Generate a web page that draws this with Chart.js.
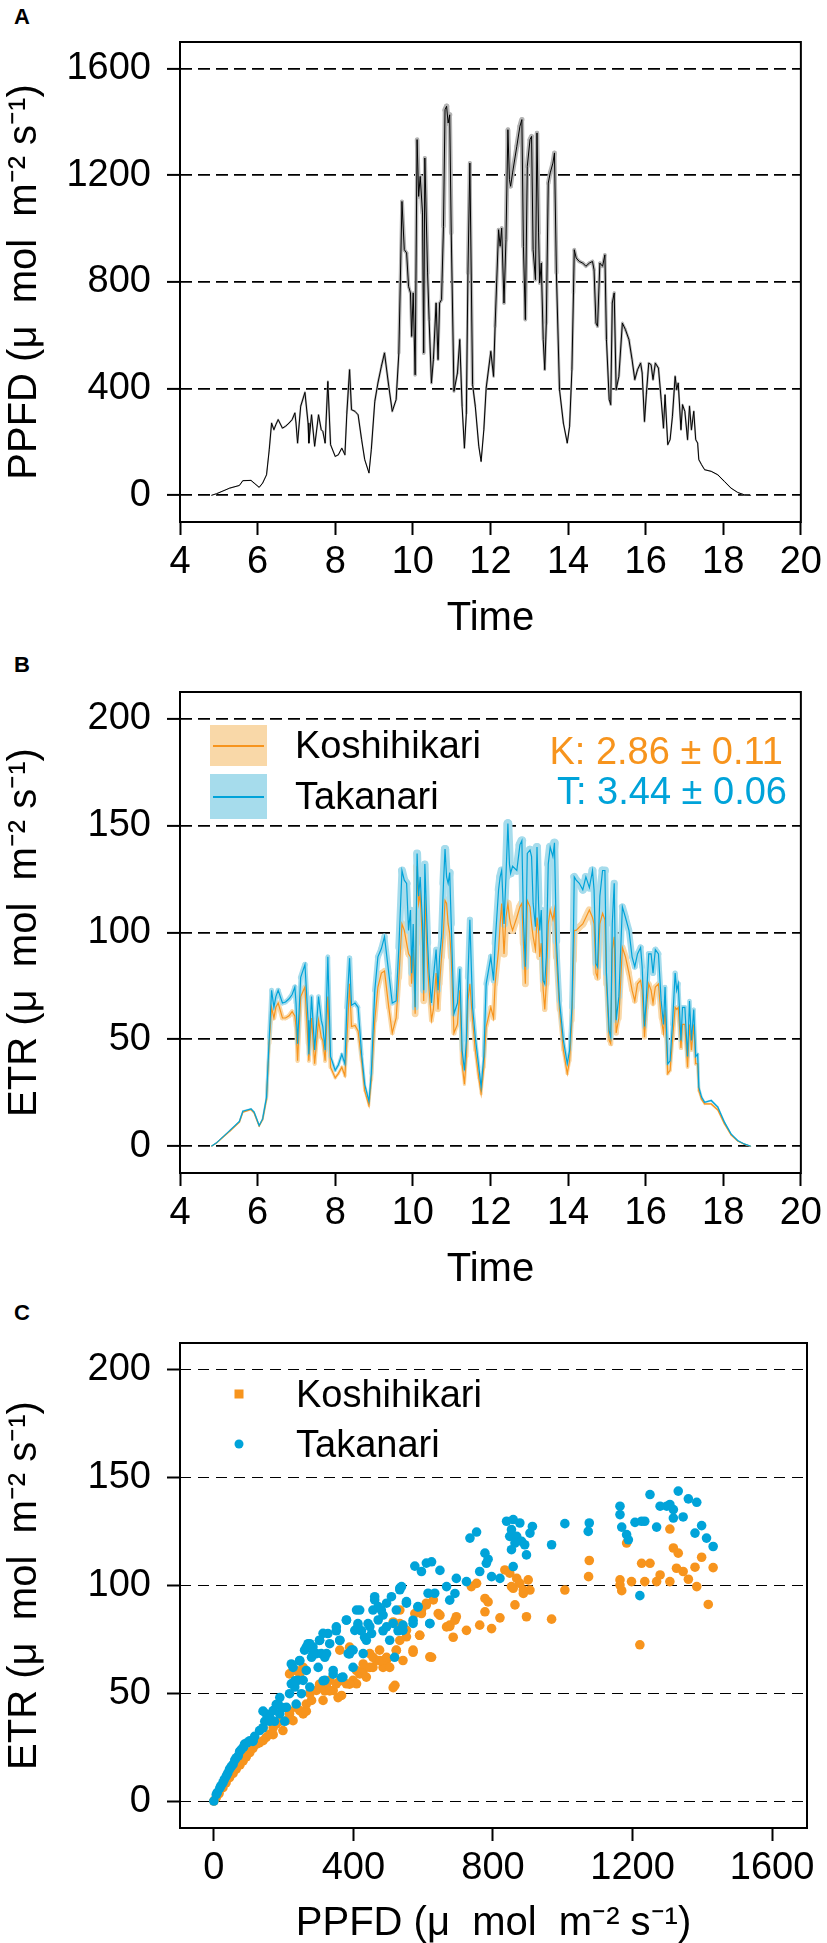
<!DOCTYPE html>
<html lang="en">
<head>
<meta charset="UTF-8">
<title>PPFD and ETR</title>
<style>
    html, body { margin: 0; padding: 0; background: #fff; overflow: hidden; }
    body { width: 827px; height: 1943px; position: relative; font-family: 'Liberation Sans', Arial, sans-serif; color: #000; }
    .panel { position: absolute; left: 0; width: 827px; }
    .tag { position: absolute; font-weight: bold; font-size: 22px; line-height: 22px; transform: translateY(-50%); }
    .txt { position: absolute; font-size: 38px; line-height: 38px; white-space: pre; transform: translateY(-50%); }
    .swatch { position: absolute; width: 57px; }
    .swatch i { position: absolute; left: 3px; right: 3px; top: 50%; height: 2px; margin-top: -1px; }
    .dot { position: absolute; width: 9px; height: 9px; transform: translate(-50%, -50%); }
</style>
<script src="https://cdn.jsdelivr.net/npm/chart.js"></script>
</head>
<body>
    <div class="tag" style="left:14px; top:17px;">A</div>
    <div class="panel" style="top:0; height:643px;"><canvas id="chartA"></canvas></div>

    <div class="tag" style="left:14px; top:665px;">B</div>
    <div class="panel" style="top:650px; height:644px;"><canvas id="chartB"></canvas></div>

    <div class="tag" style="left:14px; top:1313px;">C</div>
    <div class="panel" style="top:1300px; height:648px;"><canvas id="chartC"></canvas></div>

    <!-- leyenda panel B -->
    <div class="swatch" style="left:210px; top:725px; height:41px; background:#f9d8a8;"><i style="background:#f7941d;"></i></div>
    <div class="swatch" style="left:210px; top:774px; height:45px; background:#a6dcec;"><i style="background:#00a3d9;"></i></div>
    <div class="txt" style="left:295px; top:745px;">Koshihikari</div>
    <div class="txt" style="left:295px; top:796px;">Takanari</div>
    <div class="txt" style="right:44px; top:751px; color:#f7941d;">K: 2.86 ± 0.11</div>
    <div class="txt" style="right:40px; top:791px; color:#00a3d9;">T: 3.44 ± 0.06</div>

    <!-- leyenda panel C -->
    <div class="dot" style="left:239px; top:1394px; background:#f7941d;"></div>
    <div class="dot" style="left:239px; top:1444px; background:#00a3d9; border-radius:50%;"></div>
    <div class="txt" style="left:296px; top:1394px;">Koshihikari</div>
    <div class="txt" style="left:296px; top:1444px;">Takanari</div>

<script>
// hora del dia (h)
const hours = [
    4.81, 4.94, 5.28, 5.53, 5.62, 5.83, 5.91, 6.04, 6.13, 6.23,
    6.30, 6.36, 6.42, 6.47, 6.53, 6.64, 6.72, 6.81, 6.89, 6.96,
    6.99, 7.03, 7.11, 7.22, 7.30, 7.32, 7.39, 7.47, 7.57, 7.64,
    7.68, 7.74, 7.81, 7.88, 8.00, 8.08, 8.17, 8.25, 8.30, 8.37,
    8.42, 8.51, 8.59, 8.68, 8.76, 8.87, 8.93, 9.02, 9.10, 9.19,
    9.27, 9.38, 9.47, 9.57, 9.64, 9.72, 9.78, 9.84, 9.89, 9.94,
    9.97, 10.01, 10.06, 10.11, 10.15, 10.19, 10.25, 10.28, 10.31, 10.38,
    10.42, 10.48, 10.53, 10.60, 10.65, 10.69, 10.74, 10.79, 10.83, 10.87,
    10.91, 10.95, 10.99, 11.06, 11.15, 11.21, 11.27, 11.33, 11.38, 11.42,
    11.47, 11.54, 11.61, 11.70, 11.76, 11.83, 11.89, 12.01, 12.08, 12.12,
    12.21, 12.25, 12.29, 12.35, 12.40, 12.45, 12.49, 12.52, 12.57, 12.68,
    12.76, 12.81, 12.85, 12.90, 12.95, 13.02, 13.06, 13.10, 13.16, 13.20,
    13.24, 13.27, 13.31, 13.36, 13.40, 13.44, 13.49, 13.54, 13.61, 13.65,
    13.70, 13.78, 13.88, 13.98, 14.04, 14.10, 14.14, 14.16, 14.21, 14.29,
    14.38, 14.46, 14.55, 14.63, 14.67, 14.72, 14.76, 14.82, 14.89, 14.95,
    14.99, 15.06, 15.10, 15.14, 15.19, 15.24, 15.31, 15.40, 15.48, 15.57,
    15.65, 15.72, 15.79, 15.87, 15.91, 15.97, 16.02, 16.08, 16.14, 16.19,
    16.25, 16.33, 16.40, 16.46, 16.50, 16.57, 16.63, 16.69, 16.76, 16.80,
    16.84, 16.91, 16.95, 17.01, 17.08, 17.13, 17.18, 17.24, 17.29, 17.34,
    17.37, 17.44, 17.52, 17.69, 17.86, 18.03, 18.20, 18.37, 18.54, 18.71
];

// PPFD medio (umol m-2 s-1)
const ppfd = [
    0, 6, 27, 37, 55, 56, 46, 30, 46, 77,
    171, 271, 246, 265, 284, 252, 259, 271, 284, 309,
    271, 196, 334, 386, 271, 196, 302, 184, 302, 246,
    240, 196, 427, 190, 146, 152, 177, 152, 309, 471,
    321, 315, 302, 209, 134, 84, 171, 352, 421, 484,
    534, 409, 315, 359, 534, 1102, 921, 909, 784, 759,
    596, 759, 452, 1334, 1121, 1196, 1059, 534, 1265, 834,
    659, 421, 509, 721, 509, 721, 734, 1009, 1446, 1459,
    1396, 1427, 984, 390, 459, 584, 334, 177, 309, 834,
    1246, 415, 334, 184, 127, 246, 402, 540, 446, 634,
    996, 934, 1002, 721, 959, 1371, 1184, 1159, 1209, 1309,
    1384, 1409, 934, 659, 1234, 1334, 1346, 921, 809, 1359,
    984, 796, 871, 584, 471, 646, 1171, 1209, 1246, 1284,
    834, 396, 271, 196, 259, 471, 759, 921, 890, 877,
    871, 859, 871, 877, 846, 646, 634, 871, 859, 902,
    584, 359, 340, 721, 759, 396, 446, 646, 621, 584,
    509, 434, 471, 496, 459, 277, 384, 496, 490, 434,
    496, 477, 359, 252, 377, 190, 209, 296, 446, 396,
    421, 246, 340, 315, 209, 334, 246, 315, 209, 196,
    134, 115, 96, 90, 77, 52, 27, 11, 2, 0
];

// ETR Koshihikari
const etrK = [
    0, 1.5, 7, 11.3, 16, 17.2, 15.6, 9.5, 12.5, 22,
    48, 65, 60, 65, 67, 60, 60, 61, 63, 61,
    56, 40, 70, 74.5, 48, 40, 60, 38.6, 59, 51,
    49.5, 40, 70, 37, 32, 34, 37, 33, 49.5, 76,
    56, 56.5, 54, 40, 26, 19, 31, 59, 74.5, 81,
    82, 65, 53, 60, 79, 104, 101, 95, 90, 88.6,
    76, 92, 62, 131, 113.6, 118, 95, 68, 117, 84,
    73, 59, 64, 81, 64, 76, 88.6, 101, 115, 113.6,
    104, 99.5, 88.6, 53, 57, 73, 38.6, 29, 42, 68,
    76, 59, 45, 32, 24.5, 37, 56, 65, 60, 76,
    92, 104, 113.6, 90, 107, 113.6, 107, 104, 101, 107,
    112, 113.6, 95, 76, 115, 112, 104, 98, 92, 107,
    101, 88.6, 95, 73, 64, 76, 104, 110.5, 106, 110.5,
    88.6, 64, 45, 34, 40, 59, 87, 101, 101, 102.5,
    104, 107, 110.5, 107, 104, 81, 79, 104, 109, 106,
    76, 49.5, 48, 92, 98, 53, 60, 93, 88.6, 81,
    73, 68, 76, 77.6, 73, 51, 65, 76, 73, 67,
    74.5, 76, 60, 53, 64, 34, 35.5, 49.5, 65, 64,
    65, 46, 57, 57, 37, 57, 45, 57, 38.6, 38.6,
    26, 22, 19.8, 19.8, 17, 10.5, 5.3, 2.5, 1, 0
];

// ETR Takanari
const etrT = [
    0, 1.6, 7.3, 11.6, 16.4, 17.5, 16, 9.7, 12.8, 23,
    51, 73, 65, 70, 73, 67, 67.5, 69, 71, 74.5,
    67, 48, 79, 85, 59, 43, 70, 45, 70, 59,
    56, 45, 88.6, 42, 35.5, 38, 43, 38.6, 65, 88,
    66, 67, 65, 43, 29, 21, 34, 73, 88.6, 92.5,
    98, 81, 67, 68, 93, 129, 124.5, 123, 101, 110.5,
    81, 104, 65, 137, 117, 126, 104, 73, 132, 95,
    81, 67, 79, 92, 73, 88.6, 98, 123, 139, 126,
    123, 128, 104, 62, 67, 83, 45, 35.5, 49.5, 79,
    106, 65, 51, 37, 27.7, 42, 76, 88.6, 77.6, 95,
    120, 126, 129, 104, 126, 151, 132, 127.7, 131, 129,
    141, 143, 107, 84, 137, 138.6, 135.5, 113.6, 102.7, 140,
    113.6, 101, 110.5, 77.6, 76, 88.6, 132, 140, 135.5, 142,
    96, 68, 49.5, 38.6, 45, 65, 101, 126, 124.5, 123,
    120, 126, 121, 129, 120, 85.5, 84, 117, 129, 129,
    81, 54, 51, 104, 123, 59, 70, 112, 107, 101,
    88.6, 84, 90, 93, 84, 56, 70, 90, 90, 81,
    92, 90, 68, 57, 74.5, 38.6, 40, 57, 81, 73,
    76, 49.5, 65, 65, 42, 68, 49.5, 64, 42, 43,
    27.7, 23, 20.6, 21.4, 18.3, 11.3, 5.8, 2.7, 1.1, 0
];

// panel C: ETR frente a PPFD
const scatK_ppfd = [
    0, 7, 15, 26, 35, 45, 55, 64, 75, 84, 93, 103, 112, 122, 130, 141, 150, 160, 170, 179,
    189, 198, 208, 217, 227, 236, 246, 256, 265, 275, 280, 294, 303, 313, 323, 332, 342, 351, 366, 380,
    399, 409, 418, 428, 437, 447, 456, 466, 475, 485, 495, 504, 519, 523, 533, 552, 571, 576, 590, 595,
    609, 619, 629, 643, 217, 236, 256, 533, 676, 686,
    648, 667, 676, 695, 691, 724, 738, 753, 762, 777, 786, 777, 796, 820, 834, 848, 868, 858, 877, 887,
    906, 901, 853, 863, 887, 896, 968, 1006, 1076, 1074, 1164, 1164, 1169, 1183, 1197, 1221, 1226, 1235, 1250, 1269,
    1279, 1307, 1307, 1317, 1331, 1326, 1345, 1360, 1384, 1379, 1398, 1431, 1417,
    141, 170, 189, 217, 227, 246, 265, 303, 318, 332, 356, 361, 389, 409, 428, 447, 456, 476, 495, 514,
    523, 542, 552, 571, 590, 624, 595, 609, 361, 389, 514, 533
];
const scatK_etr = [
    0, 1.6, 3.5, 6.2, 8.5, 10.9, 12.8, 14.8, 16.8, 18.7, 20.5, 22.5, 24.5, 26.4, 27, 28, 29.5, 31, 34, 35.8,
    37.3, 32.7, 37.3, 40.4, 37.3, 43.5, 42, 40.4, 45, 49.8, 46.7, 51.3, 52.9, 46.7, 52.9, 56, 51.3, 54.4, 49, 54.4,
    56, 54.4, 59, 60.6, 57.5, 68.4, 62, 65.3, 70, 62, 65.3, 62, 53.7, 70, 82.4, 76.2, 70, 87, 76.9, 88.6,
    91.8, 66.9, 93.3, 87, 59, 60.6, 62, 88.6, 81, 76,
    86.2, 80.8, 81.6, 85.5, 83.9, 79.2, 99.5, 101, 81.6, 94, 92.4, 87.8, 80, 85, 107.2, 105.7, 103.3, 98.7, 101, 97.9,
    97.9, 102.6, 99.5, 91, 96.3, 85.5, 84.4, 97.9, 111.6, 104.1, 102.6, 100.2, 97.6, 119.7, 101.8, 72.5, 110.3, 101.8, 110.3, 101.8,
    104.9, 101.8, 126.2, 117.4, 115, 108, 106.5, 102.9, 99.5, 108.5, 113.1, 108.3, 91.2,
    33.9, 30.8, 37, 41.7, 60.5, 58.9, 41.7, 54.2, 51.1, 51.1, 48, 55.8, 54.2, 60.5, 63.6, 62, 66.7, 65.2, 66.7, 52.6,
    69.9, 65.2, 79.2, 69, 76.9, 66.7, 87, 91, 70, 71.4, 83.1, 74.5
];
const scatT_ppfd = [
    0, 7, 10, 17, 20, 26, 30, 36, 40, 45, 50, 55, 60, 64, 70, 74, 79, 85, 88, 95,
    103, 112, 117, 131, 141, 146, 150, 160, 170, 174, 184, 189, 193, 203, 208, 217, 222, 227, 232, 236,
    241, 246, 251, 256, 260, 265, 270, 275, 280, 284, 294, 299, 303, 308, 313, 318, 323, 332, 342, 351,
    361, 370, 380, 385, 394, 399, 409, 413, 423, 428, 437, 447, 456, 461, 471, 480, 485, 495, 504, 514,
    523, 528, 533, 538, 542, 552, 571, 576, 585, 595, 609, 619, 624, 633, 648,
    667, 676, 691, 695, 724, 734, 753, 762, 777, 786, 781, 796, 820, 839, 858, 853, 877, 848, 868, 863,
    882, 891, 906, 913, 896, 853, 858, 968, 1006, 1076, 1073, 1164, 1164, 1169, 1183, 1188, 1207, 1226, 1235, 1250,
    1269, 1279, 1307, 1317, 1331, 1317, 1345, 1360, 1384, 1398, 1379, 1412, 1431, 1221, 1298,
    112, 141, 160, 179, 198, 189, 222, 232, 246, 265, 275, 284, 303, 313, 318, 327, 342, 351, 361, 366,
    380, 389, 399, 404, 413, 418, 432, 442, 452, 461, 471, 485, 495, 509, 518, 533, 542, 552, 571, 585,
    614, 619
];
const scatT_etr = [
    0, 3, 4, 6, 7, 8.5, 10, 11.7, 13, 14.8, 16, 17, 19, 20, 21, 23, 24, 25, 26.4, 27,
    28, 28, 30, 32.7, 34, 37, 40.4, 39, 42, 37, 45, 40.4, 43.5, 37, 43.5, 49.8, 54.4, 62, 52.9, 45,
    56, 65, 49.8, 56, 70, 60.6, 73, 52.9, 66.7, 71.5, 68.4, 62, 74.6, 68.4, 77.8, 56, 68.4, 73, 60.6, 79,
    74.6, 57.5, 84, 68.4, 70, 62, 88.6, 80.9, 79, 68.4, 74.6, 80.9, 88.6, 93.3, 84, 88.6, 79, 91.8, 74.6, 82.4,
    88.6, 79, 98, 99.5, 81.6, 91.8, 82.4, 109, 90, 106.5, 110.4, 82.4, 111, 96.4, 107,
    99.5, 93.2, 96.3, 103.3, 101.8, 122, 124.8, 106.5, 115, 112.2, 110.3, 104.1, 103.3, 129.8, 130.6, 125.9, 129, 122.8, 122.8, 119.7,
    120.5, 118.9, 124.3, 127.4, 114.2, 116.6, 108.8, 118.9, 128.7, 129, 125.1, 136.8, 132.9, 127.1, 123.6, 121.2, 129.3, 129.8, 129.8, 142.2,
    127.1, 136.8, 137.6, 135.2, 143.8, 131.3, 131.8, 140.2, 138.6, 127.8, 124.3, 122, 118.1, 95.3, 136.8,
    27.7, 41.7, 37, 44.8, 43.3, 48, 63.6, 55.8, 65.2, 71.4, 73, 68.4, 74.5, 55.8, 66.7, 77.7, 58.9, 80.8, 74.5, 57.3,
    83.9, 68.3, 70, 79.2, 82.3, 88.6, 76, 82.3, 77.7, 94.8, 90.2, 86.3, 80.8, 94.8, 66.7, 98.8, 79.2, 92.5, 83.9, 90.2,
    96.4, 82.3
];

// marcas de los ejes
const hourTicks = [4, 6, 8, 10, 12, 14, 16, 18, 20];
const ppfdTicks = [0, 400, 800, 1200, 1600];
const etrTicks = [0, 50, 100, 150, 200];

const ORANGE = '#f7941d';
const BLUE = '#00a3d9';
const UNIT = ' (\u03bc  mol  m\u207b\u00b2 s\u207b\u00b9)';

Chart.defaults.font.family = "'Liberation Sans', Arial, sans-serif";
Chart.defaults.color = '#000';

function pts(xs, ys) {
    return xs.map((x, i) => ({ x: x, y: ys[i] }));
}

// banda de error: el grosor crece con el valor
function bandWidth(base, k) {
    return ctx => base + k * (ctx.p0.parsed.y + ctx.p1.parsed.y) / 2;
}

// caja negra alrededor del area del grafico
const boxPlugin = {
    id: 'box',
    afterDraw(chart) {
        const { ctx, chartArea: a } = chart;
        ctx.save();
        ctx.strokeStyle = '#000';
        ctx.lineWidth = 2;
        ctx.strokeRect(a.left, a.top, a.right - a.left, a.bottom - a.top);
        ctx.restore();
    }
};

function yAxis(min, max, ticks, title, gridWidth, dash) {
    return {
        type: 'linear', min: min, max: max,
        afterBuildTicks: s => { s.ticks = ticks.map(v => ({ value: v })); },
        afterFit: s => { s.width = 180; },
        ticks: { font: { size: 38 }, padding: 16, autoSkip: false, callback: v => String(v) },
        grid: { color: '#000', lineWidth: gridWidth, tickLength: 13, tickColor: '#000', tickWidth: 2 },
        border: { display: false, dash: dash },
        title: { display: true, text: title, font: { size: 40 }, padding: { top: 1, bottom: 0 } }
    };
}

function xAxis(min, max, ticks, title, height) {
    return {
        type: 'linear', min: min, max: max,
        afterBuildTicks: s => { s.ticks = ticks.map(v => ({ value: v })); },
        afterFit: s => { s.height = height; },
        ticks: { font: { size: 38 }, padding: 5, autoSkip: false, maxRotation: 0, callback: v => String(v) },
        grid: { drawOnChartArea: false, tickLength: 13, tickColor: '#000', tickWidth: 2 },
        border: { display: false },
        title: { display: true, text: title, font: { size: 40 }, padding: 0 }
    };
}

const baseOptions = {
    responsive: true,
    maintainAspectRatio: false,
    animation: false,
    events: [],
    plugins: { legend: { display: false }, tooltip: { enabled: false } }
};

// A: PPFD a lo largo del dia
new Chart(document.getElementById('chartA'), {
    type: 'line',
    data: {
        datasets: [
            { data: pts(hours, ppfd), borderColor: '#000', borderWidth: 1, pointRadius: 0, tension: 0, order: 0 },
            { data: pts(hours, ppfd), borderColor: '#b4b4b4', borderCapStyle: 'round', borderJoinStyle: 'round',
              pointRadius: 0, tension: 0, order: 1, segment: { borderWidth: bandWidth(1, 0.003) } }
        ]
    },
    options: Object.assign({}, baseOptions, {
        layout: { padding: { top: 42, right: 20, left: 0, bottom: 0 } },
        scales: {
            x: xAxis(4, 20, hourTicks, 'Time', 121),
            y: yAxis(-100, 1700, ppfdTicks, 'PPFD' + UNIT, 1.8, [12, 6])
        }
    }),
    plugins: [boxPlugin]
});

// B: ETR a lo largo del dia
new Chart(document.getElementById('chartB'), {
    type: 'line',
    data: {
        datasets: [
            { data: pts(hours, etrT), borderColor: BLUE, borderWidth: 1.2, pointRadius: 0, tension: 0, order: 0 },
            { data: pts(hours, etrK), borderColor: ORANGE, borderWidth: 1.2, pointRadius: 0, tension: 0, order: 1 },
            { data: pts(hours, etrT), borderColor: '#a6dcec', borderCapStyle: 'round', borderJoinStyle: 'round',
              pointRadius: 0, tension: 0, order: 2, segment: { borderWidth: bandWidth(1, 0.055) } },
            { data: pts(hours, etrK), borderColor: '#f9d8a8', borderCapStyle: 'round', borderJoinStyle: 'round',
              pointRadius: 0, tension: 0, order: 3, segment: { borderWidth: bandWidth(1, 0.06) } }
        ]
    },
    options: Object.assign({}, baseOptions, {
        layout: { padding: { top: 42, right: 20, left: 0, bottom: 0 } },
        scales: {
            x: xAxis(4, 20, hourTicks, 'Time', 121),
            y: yAxis(-12.5, 212.5, etrTicks, 'ETR' + UNIT, 1.8, [12, 6])
        }
    }),
    plugins: [boxPlugin]
});

// C: ETR frente a PPFD
new Chart(document.getElementById('chartC'), {
    type: 'scatter',
    data: {
        datasets: [
            { data: pts(scatT_ppfd, scatT_etr), backgroundColor: BLUE, borderWidth: 0, pointRadius: 4.8, order: 0 },
            { data: pts(scatK_ppfd, scatK_etr), backgroundColor: ORANGE, borderWidth: 0, pointRadius: 4.8, order: 1 }
        ]
    },
    options: Object.assign({}, baseOptions, {
        layout: { padding: { top: 43, right: 20, left: 0, bottom: 0 } },
        scales: {
            x: xAxis(-97, 1700, ppfdTicks, 'PPFD' + UNIT, 120),
            y: yAxis(-12.5, 212.5, etrTicks, 'ETR' + UNIT, 1, [11, 7])
        }
    }),
    plugins: [boxPlugin]
});
</script>
</body>
</html>
